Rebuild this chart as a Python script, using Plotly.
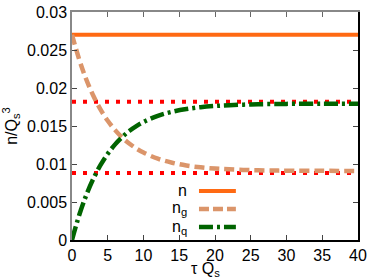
import plotly.graph_objects as go

# Data
tau = [0, 1, 2, 3, 4, 5, 6, 7, 8, 9, 10, 12, 14, 16, 18, 20, 22, 25, 28, 30, 35, 40]
n_total = [0.027] * len(tau)
n_g = [0.0270, 0.02378, 0.02112, 0.01894, 0.01716, 0.01569, 0.01449, 0.01350, 0.01270,
       0.01204, 0.01151, 0.01070, 0.01017, 0.00980, 0.00956, 0.00940, 0.00930, 0.00919,
       0.00914, 0.00912, 0.00910, 0.00909]
n_q = [0.0, 0.00325, 0.00591, 0.00809, 0.00988, 0.01135, 0.01255, 0.01353, 0.01434,
       0.01499, 0.01553, 0.01634, 0.01687, 0.01723, 0.01748, 0.01764, 0.01774, 0.01784,
       0.01789, 0.01791, 0.01793, 0.01794]
ref_levels = [0.0182, 0.0088]
x_range = [0, 40]
y_range = [0, 0.03]
x_ticks = [0, 5, 10, 15, 20, 25, 30, 35, 40]
y_ticks = [0, 0.005, 0.01, 0.015, 0.02, 0.025, 0.03]
y_tick_text = ["0", "0.005", "0.01", "0.015", "0.02", "0.025", "0.03"]
legend_labels = ["n", "n<sub>g</sub>", "n<sub>q</sub>"]
x_title = "τ Q<sub>s</sub>"
y_title = "n/Q<sub>s</sub><sup>3</sup>"

C_N = "#FF6A13"
C_G = "#DB956A"
C_Q = "#006400"
C_R = "#FF0000"
FONT = "Liberation Sans, Arial, sans-serif"
FS = 16

fig = go.Figure()
for lev in ref_levels:
    fig.add_trace(go.Scatter(x=x_range, y=[lev, lev], mode="lines",
                             line=dict(color=C_R, width=4, dash="4px,7px"),
                             showlegend=False, hoverinfo="skip"))
fig.add_trace(go.Scatter(x=tau, y=n_total, mode="lines",
                         line=dict(color=C_N, width=4), showlegend=False))
fig.add_trace(go.Scatter(x=tau, y=n_g, mode="lines", line_shape="spline",
                         line=dict(color=C_G, width=4.5, dash="10px,5px"), showlegend=False))
fig.add_trace(go.Scatter(x=tau, y=n_q, mode="lines", line_shape="spline",
                         line=dict(color=C_Q, width=4.5, dash="14px,4px,3px,4px"), showlegend=False))

# manual legend (label left of sample, as in the reference)
styles = [dict(color=C_N, width=4), dict(color=C_G, width=4.5, dash="10px,4px"),
          dict(color=C_Q, width=4.5, dash="14px,4px,3px,4px")]
rows_y = [0.215, 0.136, 0.057]
for lab, st, yy in zip(legend_labels, styles, rows_y):
    fig.add_annotation(x=0.41, y=yy, xref="paper", yref="paper", text=lab,
                       showarrow=False, xanchor="right", yanchor="middle",
                       font=dict(family=FONT, size=FS, color="black"))
    fig.add_shape(type="line", xref="paper", yref="paper", x0=0.444, x1=0.573,
                  y0=yy, y1=yy, line=st)

# x-axis title, slightly left of centre as in the reference
fig.add_annotation(x=0.468, y=-0.128, xref="paper", yref="paper", text=x_title,
                   showarrow=False, xanchor="center", yanchor="middle",
                   font=dict(family=FONT, size=FS, color="black"))

common = dict(ticks="inside", ticklen=5, showline=True, linewidth=1.5,
              showgrid=False, zeroline=False, automargin=False)
fig.update_layout(
    width=374, height=280,
    margin=dict(l=72, r=16, t=12, b=40),
    paper_bgcolor="white", plot_bgcolor="white",
    font=dict(family=FONT, size=FS, color="black"),
    xaxis=dict(range=x_range, tickvals=x_ticks, linecolor="black", tickcolor="#444",
               ticklabelstandoff=0, **common),
    xaxis2=dict(range=x_range, overlaying="x", side="top", tickvals=x_ticks,
                showticklabels=False, linecolor="#888", tickcolor="#666", **common),
    yaxis=dict(range=y_range, tickvals=y_ticks, ticktext=y_tick_text, linecolor="#888",
               tickcolor="#444",
               title=dict(text=y_title, standoff=6, font=dict(size=FS)),
               **common),
    yaxis2=dict(range=y_range, overlaying="y", side="right", tickvals=y_ticks,
                showticklabels=False, linecolor="black", tickcolor="#444", **common),
)
# invisible trace to activate the secondary axes
fig.add_trace(go.Scatter(x=[None], y=[None], xaxis="x2", yaxis="y2", showlegend=False))

fig.write_html("out.html", config={"displayModeBar": False},
               post_script="document.body.style.margin='0';")
